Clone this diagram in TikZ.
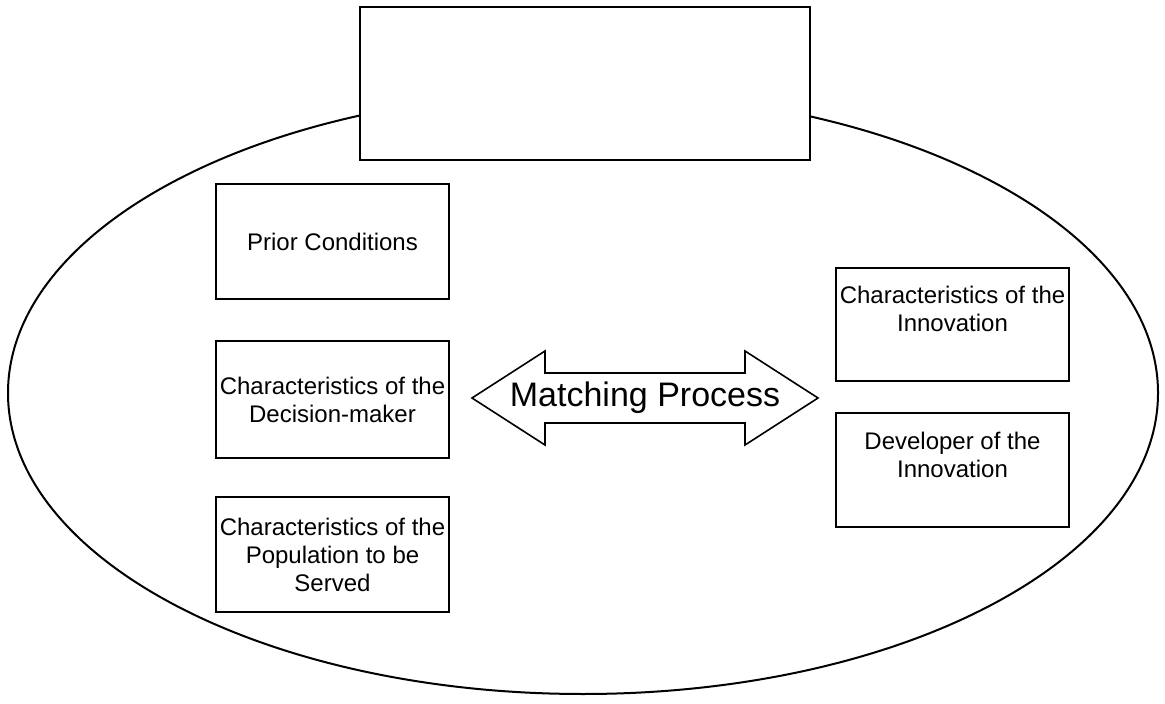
\documentclass[tikz,border=0pt]{standalone}
\usepackage{fontspec}
\setmainfont{Liberation Sans}
\usetikzlibrary{shapes.geometric}
\begin{document}
\begin{tikzpicture}[x=0.5pt,y=-0.5pt,
  boxnode/.style={draw, line width=0.8pt, fill=white, minimum width=116.5pt, inner sep=0pt},
  txt/.style={align=center, font=\fontsize{12}{14}\selectfont, inner sep=0pt},
  bigtxt/.style={font=\fontsize{17}{20}\selectfont, inner sep=0pt}]
\useasboundingbox (0,0) rectangle (1165,704);
% outer ellipse
\node[ellipse, draw, line width=1pt, inner sep=0pt, minimum width=575pt, minimum height=301pt] (oval) at (583,393) {};
% title box covering the ellipse top
\node[draw, line width=1pt, fill=white, inner sep=0pt, minimum width=225pt, minimum height=76.5pt] (title) at (585,83.5) {};
% left boxes
\node[boxnode, minimum height=57.5pt] (prior) at (332.5,241.5) {};
\node[txt] (priort) at (prior.center) {Prior Conditions};
\node[boxnode, minimum height=58.5pt] (dm) at (332.5,399.5) {};
\node[txt] (dmt) at (dm.center) {Characteristics of the\\Decision-maker};
\node[boxnode, minimum height=57.5pt] (pop) at (332.5,554.5) {};
\node[txt] (popt) at (pop.center) {Characteristics of the\\Population to be\\Served};
% right boxes
\node[boxnode, minimum height=56.5pt] (inn) at (952.5,324.5) {};
\node[txt] (innt) at (952.5,309) {Characteristics of the\\Innovation};
\node[boxnode, minimum height=57pt] (dev) at (952.5,470) {};
\node[txt] (devt) at (952.5,455) {Developer of the\\Innovation};
% double arrow
\coordinate (lt) at (472,398);
\coordinate (rt) at (818,398);
\draw[line width=0.8pt] (lt) -- (545,351) -- (545,373) -- (745,373) -- (745,351) -- (rt)
  -- (745,445) -- (745,423) -- (545,423) -- (545,445) -- cycle;
\node[bigtxt] (mp) at (645,398) {Matching Process};
\end{tikzpicture}
\end{document}
